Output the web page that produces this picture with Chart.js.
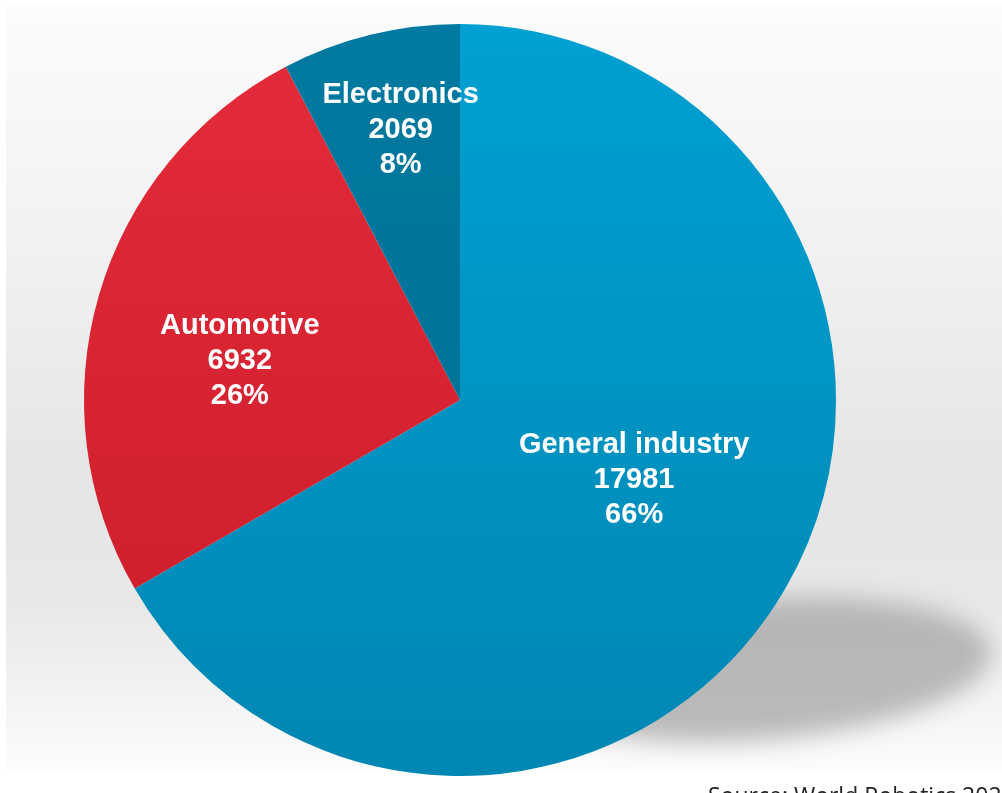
<!DOCTYPE html>
<html>
<head>
<meta charset="utf-8">
<script src="https://cdn.jsdelivr.net/npm/chart.js@4.4.1/dist/chart.umd.min.js"></script>
<style>
    html, body { margin: 0; padding: 0; background: #fff; overflow: hidden; }
    #wrap { position: relative; width: 1002px; height: 793px; overflow: hidden; background: #fff; }
    #panel {
        position: absolute; left: 6px; top: 4px; right: 0; bottom: 22px;
        background: linear-gradient(to bottom, #fcfcfc 0%, #f2f2f2 30%, #e5e5e5 62%, #e8e8e8 78%, #fcfcfc 100%);
    }
    #segments-chart { position: absolute; left: 0; top: 0; }
    #source {
        position: absolute; left: 708px; top: 784px; white-space: nowrap;
        font-family: "Open Sans", sans-serif; font-size: 23px; line-height: 1; color: #222;
    }
</style>
</head>
<body>
<div id="wrap">
    <div id="panel"></div>
    <canvas id="segments-chart" width="1002" height="793"></canvas>
    <div id="source">Source: World Robotics 2023</div>
</div>
<script>
    var segments = ['General industry', 'Automotive', 'Electronics'];
    var units = [17981, 6932, 2069];
    var shares = ['66%', '26%', '8%'];

    // top / bottom shade of each slice
    var topColors = ['#00a0d2', '#e52b3a', '#007aa1'];
    var bottomColors = ['#0087b3', '#c91b29', '#006b8f'];
    // label block placement: fraction of radius, and turn (degrees) off the slice middle
    var labelRadius = [0.51, 0.595, 0.735];
    var labelTurn = [-5.2, -6.0, 1.4];

    var sliceFill = function (context) {
        var chart = context.chart;
        var area = chart.chartArea;
        var i = context.dataIndex;
        if (!area) {
            return topColors[i];
        }
        var g = chart.ctx.createLinearGradient(0, area.top, 0, area.bottom);
        g.addColorStop(0, topColors[i]);
        g.addColorStop(1, bottomColors[i]);
        return g;
    };

    // soft grey shadow lying behind the lower right of the pie
    var shadowPlugin = {
        id: 'pieShadow',
        beforeDatasetsDraw: function (chart) {
            var ctx = chart.ctx;
            var arc = chart.getDatasetMeta(0).data[0];
            var cx = arc.x + 300, cy = arc.y + 270;
            ctx.save();
            ctx.filter = 'blur(12px)';
            ctx.fillStyle = 'rgba(160, 160, 160, 0.7)';
            ctx.beginPath();
            ctx.ellipse(cx, cy, 232, 70, -0.08, 0, Math.PI * 2);
            ctx.fill();
            ctx.restore();
        }
    };

    // white three line labels inside each slice
    var labelPlugin = {
        id: 'sliceLabels',
        afterDatasetsDraw: function (chart) {
            var ctx = chart.ctx;
            var meta = chart.getDatasetMeta(0);
            ctx.save();
            ctx.fillStyle = '#ffffff';
            ctx.font = 'bold 29px "Liberation Sans", Arial, sans-serif';
            ctx.textAlign = 'center';
            ctx.textBaseline = 'middle';
            meta.data.forEach(function (arc, i) {
                var p = arc.getProps(['x', 'y', 'startAngle', 'endAngle', 'outerRadius'], true);
                var mid = (p.startAngle + p.endAngle) / 2 + labelTurn[i] * Math.PI / 180;
                var r = p.outerRadius * labelRadius[i];
                var x = p.x + Math.cos(mid) * r;
                var y = p.y + Math.sin(mid) * r;
                var lines = [segments[i], String(units[i]), shares[i]];
                lines.forEach(function (t, k) {
                    ctx.fillText(t, x, y + (k - 1) * 35);
                });
            });
            ctx.restore();
        }
    };

    var config = {
        type: 'pie',
        data: {
            labels: segments,
            datasets: [{
                data: units,
                backgroundColor: sliceFill,
                borderWidth: 0
            }]
        },
        options: {
            responsive: false,
            animation: false,
            layout: {
                padding: { left: 84, right: 166, top: 24, bottom: 17 }
            },
            plugins: {
                legend: { display: false },
                tooltip: { enabled: false }
            }
        },
        plugins: [shadowPlugin, labelPlugin]
    };

    window.onload = function () {
        var ctx = document.getElementById('segments-chart').getContext('2d');
        window.segmentsPie = new Chart(ctx, config);
    };
</script>
</body>
</html>
